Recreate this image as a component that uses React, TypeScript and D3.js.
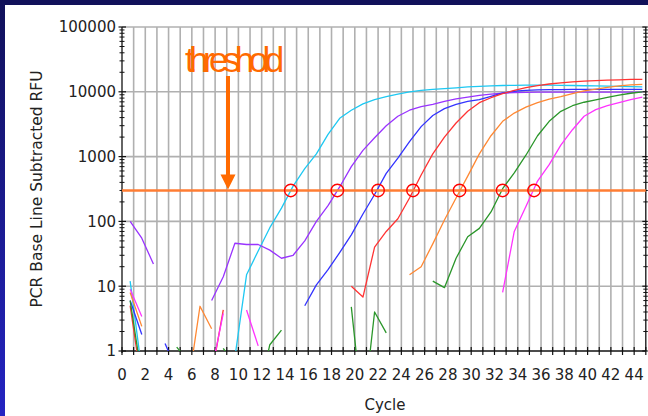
import * as d3 from 'd3';

// readings per cycle (1..45); null = negative / not plotted on log axis
const cycles = d3.range(1, 46);

const cyanValues = [12, 0.5, null, null, null, null, null, null, null, 0.8,
  15, 35, 80, 160, 350, 650, 1100, 2200, 3900, 5200,
  6500, 7600, 8400, 9200, 10000, 10500, 10900, 11200, 11500, 11900,
  12100, 12300, 12500, 12600, 12700, 12700, 12700, 12600, 12500, 12400,
  12300, 12200, 12100, 12000, 11900];

const purpleValues = [100, 55, 22, null, null, null, null, 6, 14, 46,
  44, 44, 36, 27, 30, 50, 100, 175, 340, 700,
  1250, 1950, 3000, 4200, 5200, 5900, 6400, 7100, 7800, 8300,
  8800, 9200, 9500, 9700, 9800, 9900, 9900, 9900, 9900, 9900,
  9900, 9900, 9900, 9900, 9900];

const blueValues = [6, 1.8, null, 1.3, 0.5, null, null, null, null, null,
  null, null, null, null, null, 5, 10.5, 18, 33, 62,
  130, 260, 550, 950, 1700, 2900, 4300, 5500, 6400, 7100,
  7600, 8500, 9600, 10200, 10500, 10700, 10800, 10800, 10900, 10900,
  10900, 10900, 10900, 10900, 10900];

const redValues = [5, 0.3, null, null, null, null, null, 0.42, 4.3, null,
  null, null, null, null, null, null, null, null, null, 10,
  6.8, 40, 70, 110, 230, 520, 1100, 2000, 3300, 5000,
  6800, 8100, 9400, 10500, 11600, 12500, 13200, 13700, 14200, 14600,
  14900, 15100, 15300, 15500, 15600];

const orangeValues = [8, 2.4, null, null, null, 0.3, 4.9, 2.2, null, null,
  null, null, null, null, null, null, null, null, null, null,
  null, null, null, null, 15, 20, 45, 105, 230, 500,
  1100, 2100, 3500, 4700, 5800, 6800, 7700, 8400, 9400, 10300,
  11000, 11700, 12300, 12800, 13000];

const greenValues = [6, 0.4, null, null, 1.15, 0.7, null, null, 1.1, 0.6,
  null, 0.2, 1.25, 2.1, null, null, null, null, null, 4.8,
  0.1, 4.0, 1.9, null, null, null, 12, 9.5, 27, 58,
  78, 140, 320, 560, 1050, 2100, 3500, 5000, 6100, 6900,
  7500, 8200, 8900, 9500, 10000];

const magentaValues = [9, 3.4, null, null, null, null, null, 0.5, 3.8, null,
  4.3, 1.2, null, null, null, null, null, null, null, null,
  null, null, null, null, null, null, null, null, null, null,
  null, null, 8, 70, 170, 420, 750, 1500, 2600, 4200,
  5300, 6100, 6800, 7600, 8300];

const seriesColors = ['#1ec8f2', '#9933ff', '#3333ff', '#ff3333', '#ff8833', '#2a962a', '#ff33ff'];
const seriesValues = [cyanValues, purpleValues, blueValues, redValues, orangeValues, greenValues, magentaValues];

// threshold cycles (Ct) marked with circles
const ctValues = [14.5, 18.5, 22.0, 25.0, 29.0, 32.7, 35.4];
const thresholdRFU = 300;

const xTickLabels = d3.range(0, 45, 2);
const yTickLabels = [1, 10, 100, 1000, 10000, 100000];

// the instrument draws each reading a bit left of its cycle line
const READ_SHIFT = 0.3;

const W = 648;
const H = 416;
const FONT = '"DejaVu Sans", Verdana, sans-serif';

export default function App() {
  const x = d3.scaleLinear().domain([0, 45]).range([122, 645.8]);
  const y = d3.scaleLog().domain([1, 100000]).range([351, 27]);
  const [x0, x1] = x.range();
  const [yb, yt] = y.range();

  const line = d3.line<{ c: number; v: number | null }>()
    .defined(d => d.v != null && d.v > 0)
    .x(d => x(d.c - READ_SHIFT))
    .y(d => y(d.v as number));

  const minorTicks: number[] = [];
  [1, 10, 100, 1000, 10000].forEach(d => {
    for (let k = 2; k <= 9; k++) minorTicks.push(d * k);
  });

  const ty = y(thresholdRFU);
  const arrowX = 228;

  return (
    <svg width={W} height={H} style={{ position: 'absolute', left: 0, top: 0 }} fontFamily={FONT}>
      <defs>
        <linearGradient id="frame" x1="0" y1="0" x2="0" y2="1">
          <stop offset="0" stopColor="#11115a" />
          <stop offset="1" stopColor="#2424c2" />
        </linearGradient>
        <clipPath id="plot">
          <rect x={x0} y={yt} width={x1 - x0} height={yb - yt} />
        </clipPath>
      </defs>
      <rect width={W} height={H} fill="#fff" />
      <rect width={W} height={5} fill="#11115a" />
      <rect width={5} height={H} fill="url(#frame)" />

      {/* grid */}
      {d3.range(1, 45).map(c => (
        <line key={'gx' + c} x1={x(c)} x2={x(c)} y1={yt} y2={yb} stroke="#b0b0b0" strokeWidth={1.6} />
      ))}
      {yTickLabels.slice(1).map(v => (
        <line key={'gy' + v} x1={x0} x2={x1} y1={y(v)} y2={y(v)} stroke="#b0b0b0" strokeWidth={1.6} />
      ))}

      {/* axes */}
      <line x1={x0} x2={x0} y1={yt} y2={yb + 2} stroke="#111" strokeWidth={1.3} />
      <line x1={x1} x2={x1} y1={yt} y2={yb} stroke="#111" strokeWidth={1.3} />
      <line x1={x0} x2={x1} y1={yb} y2={yb} stroke="#111" strokeWidth={1.3} />
      {minorTicks.map(v => (
        <g key={'mt' + v}>
          <line x1={x0 - 2.5} x2={x0 + 2.5} y1={y(v)} y2={y(v)} stroke="#111" strokeWidth={1} />
          <line x1={x1 - 2.5} x2={x1 + 2} y1={y(v)} y2={y(v)} stroke="#111" strokeWidth={1} />
        </g>
      ))}
      {yTickLabels.map(v => (
        <g key={'yt' + v}>
          <line x1={x0 - 3.5} x2={x0 + 4} y1={y(v)} y2={y(v)} stroke="#111" strokeWidth={1.2} />
          <line x1={x1 - 3.5} x2={x1 + 2} y1={y(v)} y2={y(v)} stroke="#111" strokeWidth={1.2} />
          <text x={116} y={y(v)} dy="0.36em" textAnchor="end" fontSize={15} fill="#222">{v}</text>
        </g>
      ))}
      {d3.range(0, 46).map(c => (
        <line key={'xt' + c} x1={x(c)} x2={x(c)} y1={yb - 4} y2={yb + 4} stroke="#111" strokeWidth={1.2} />
      ))}
      {xTickLabels.map(c => (
        <text key={'xl' + c} x={x(c)} y={380} textAnchor="middle" fontSize={15} fill="#222">{c}</text>
      ))}
      <text x={385} y={410} textAnchor="middle" fontSize={15} fill="#222">Cycle</text>
      <text transform="translate(42,189) rotate(-90)" textAnchor="middle" fontSize={15.5} fill="#222">
        PCR Base Line Subtracted RFU
      </text>

      {/* amplification curves */}
      <g clipPath="url(#plot)" fill="none" strokeWidth={1.3} strokeLinejoin="round">
        {seriesValues.map((vals, i) => (
          <path key={'s' + i} d={line(cycles.map((c, j) => ({ c, v: vals[j] }))) || ''} stroke={seriesColors[i]} />
        ))}
      </g>

      {/* threshold */}
      <line x1={x0} x2={x1} y1={ty} y2={ty} stroke="#ff7d33" strokeWidth={2.6} />
      {ctValues.map((ct, i) => (
        <circle key={'ct' + i} cx={x(ct)} cy={ty} r={6.2} fill="none" stroke="#f00" strokeWidth={1.4} />
      ))}
      <rect x={arrowX - 2} y={76} width={4} height={ty - 76 - 14} fill="#ff6a00" />
      <path d={`M${arrowX - 7.5},${ty - 16} L${arrowX + 7.5},${ty - 16} L${arrowX},${ty - 1} Z`} fill="#ff6a00" />
      <text x={185} y={72} fontFamily="'Liberation Sans', Arial, sans-serif" fontSize={35} letterSpacing={-5.6} fill="#ff6a00">threshold</text>
    </svg>
  );
}
